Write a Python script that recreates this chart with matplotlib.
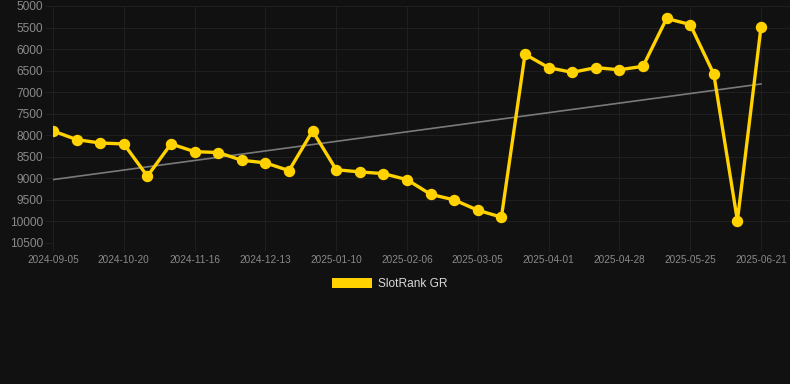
import numpy as np
import matplotlib
matplotlib.use("Agg")
import matplotlib.pyplot as plt
from matplotlib.patches import Patch

plt.rcParams['font.family'] = ['Liberation Sans', 'DejaVu Sans']

# Data (rank values; evenly spaced category points)
rank_values = [7900, 8100, 8180, 8200, 8950, 8200, 8380, 8400, 8580, 8640,
               8820, 7900, 8800, 8850, 8890, 9030, 9370, 9500, 9740, 9900,
               6120, 6430, 6540, 6430, 6480, 6400, 5290, 5430, 6580, 9980,
               5490]
tick_labels = ["2024-09-05", "2024-10-20", "2024-11-16", "2024-12-13",
               "2025-01-10", "2025-02-06", "2025-03-05", "2025-04-01",
               "2025-04-28", "2025-05-25", "2025-06-21"]
y_ticks = [5000, 5500, 6000, 6500, 7000, 7500, 8000, 8500, 9000, 9500, 10000, 10500]
series_name = "SlotRank GR"

BG = '#111111'
GRID = '#1f1f1f'
TICKC = '#8a8a8a'
YELLOW = '#FFD200'

W, H = 790, 384
fig = plt.figure(figsize=(W / 100, H / 100), dpi=100, facecolor=BG)
left_px, right_px, top_px, bot_px = 53, 790, 6, 243
ax = fig.add_axes([left_px / W, 1 - bot_px / H, (right_px - left_px) / W, (bot_px - top_px) / H])
ax.set_facecolor(BG)

x = np.arange(len(rank_values))
step_px = (761 - 53) / (len(rank_values) - 1)
ax.set_xlim(0, (right_px - left_px) / step_px)
ax.set_ylim(10500, 5000)

# trend line (linear regression)
coef = np.polyfit(x, rank_values, 1)
ax.plot([x[0], x[-1]], np.polyval(coef, [x[0], x[-1]]), color='#7a7a7a', lw=1.2, zorder=2)

ax.plot(x, rank_values, color=YELLOW, lw=2.4, marker='o', markersize=7.2,
        markerfacecolor=YELLOW, markeredgecolor=YELLOW, zorder=3, solid_joinstyle='round')

tick_idx = np.arange(0, len(rank_values), 3)
ax.set_xticks(tick_idx)
ax.set_xticklabels(tick_labels)
ax.set_yticks(y_ticks)
ax.set_yticklabels([str(v) for v in y_ticks])

ax.grid(True, color=GRID, lw=0.8, zorder=0)
for s in ax.spines.values():
    s.set_visible(False)
ax.tick_params(axis='y', length=5.8, width=0.8, color=GRID, labelcolor=TICKC,
               labelsize=8.6, pad=1.5)
ax.tick_params(axis='x', length=5.8, width=0.8, color=GRID, labelcolor=TICKC,
               labelsize=7.2, pad=3)

handle = Patch(facecolor=YELLOW, edgecolor='none', label=series_name)
leg = fig.legend(handles=[handle], loc='center', bbox_to_anchor=(390 / W, 1 - 284 / H),
                 frameon=False, fontsize=8.6, handlelength=3.33, handleheight=1.0,
                 handletextpad=0.5, labelcolor='#d8d8d8')

fig.savefig('out.png', dpi=100, facecolor=BG)
